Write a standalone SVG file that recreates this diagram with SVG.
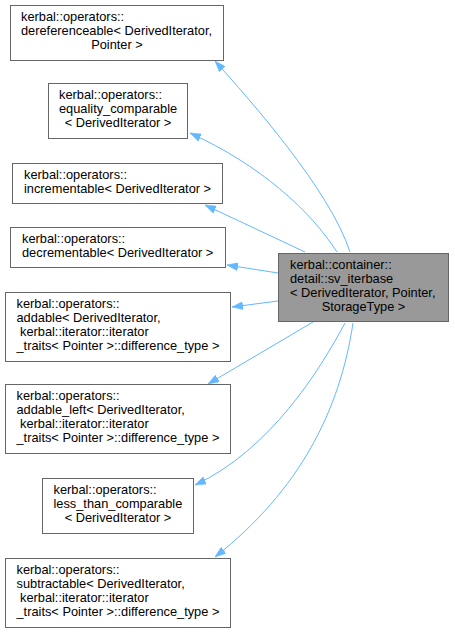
<svg xmlns="http://www.w3.org/2000/svg" width="455" height="633" viewBox="0 0 455 633">
<style>
.n rect{fill:#ffffff;stroke:#666666;stroke-width:1}
.main rect{fill:#999999;stroke:#666666;stroke-width:1}
text{font-family:"Liberation Sans",Helvetica,Arial,sans-serif;font-size:12.8px;fill:#000000}
.c{text-anchor:middle}
.e path{fill:none;stroke:#63b8ff;stroke-width:1}
</style>
<defs>
<marker id="ah" markerUnits="userSpaceOnUse" markerWidth="11" markerHeight="8" refX="11" refY="4" orient="auto">
<path d="M0,0 L11,4 L0,8 z" fill="#63b8ff" stroke="#63b8ff" stroke-width="0.5"/>
</marker>
</defs>
<rect width="455" height="633" fill="#ffffff"/>
<g id="edges" class="e">
<path d="M350,252 C330,190 250,100 215,61" marker-end="url(#ah)"/>
<path d="M337,252 C310,210 260,165 190,133" marker-end="url(#ah)"/>
<path d="M305,252 L205,205" marker-end="url(#ah)"/>
<path d="M278,273 L227,265" marker-end="url(#ah)"/>
<path d="M278,301 L232,307" marker-end="url(#ah)"/>
<path d="M313,322 L208,384" marker-end="url(#ah)"/>
<path d="M345,323 C320,370 270,450 195,485" marker-end="url(#ah)"/>
<path d="M353,323 C340,410 300,490 215,557" marker-end="url(#ah)"/>
</g>
<g id="node-main" class="main">
<rect x="278.5" y="253.5" width="170" height="68"/>
<text x="290" y="269">kerbal::container::</text>
<text x="290" y="283">detail::sv_iterbase</text>
<text x="290" y="297">&lt; DerivedIterator, Pointer,</text>
<text class="c" x="363.5" y="311">StorageType &gt;</text>
</g>
<g id="node-dereferenceable" class="n">
<rect x="10.5" y="5.5" width="213" height="55"/>
<text x="21" y="21">kerbal::operators::</text>
<text x="21" y="35">dereferenceable&lt; DerivedIterator,</text>
<text class="c" x="117" y="49">Pointer &gt;</text>
</g>
<g id="node-equality_comparable" class="n">
<rect x="48.5" y="83.5" width="139" height="55"/>
<text x="59" y="99">kerbal::operators::</text>
<text x="59" y="113">equality_comparable</text>
<text class="c" x="118" y="127">&lt; DerivedIterator &gt;</text>
</g>
<g id="node-incrementable" class="n">
<rect x="12.5" y="163.5" width="210" height="40"/>
<text x="24" y="179">kerbal::operators::</text>
<text x="24" y="193">incrementable&lt; DerivedIterator &gt;</text>
</g>
<g id="node-decrementable" class="n">
<rect x="10.5" y="227.5" width="215" height="40"/>
<text x="22" y="243">kerbal::operators::</text>
<text x="22" y="257">decrementable&lt; DerivedIterator &gt;</text>
</g>
<g id="node-addable" class="n">
<rect x="5.5" y="292.5" width="225" height="69"/>
<text x="16.5" y="308">kerbal::operators::</text>
<text x="16.5" y="322">addable&lt; DerivedIterator,</text>
<text x="20" y="336">kerbal::iterator::iterator</text>
<text x="16.5" y="350">_traits&lt; Pointer &gt;::difference_type &gt;</text>
</g>
<g id="node-addable_left" class="n">
<rect x="5.5" y="384.5" width="225" height="69"/>
<text x="16.5" y="400">kerbal::operators::</text>
<text x="16.5" y="414">addable_left&lt; DerivedIterator,</text>
<text x="20" y="428">kerbal::iterator::iterator</text>
<text x="16.5" y="442">_traits&lt; Pointer &gt;::difference_type &gt;</text>
</g>
<g id="node-less_than_comparable" class="n">
<rect x="42.5" y="478.5" width="151" height="55"/>
<text x="53.5" y="494">kerbal::operators::</text>
<text x="53.5" y="508">less_than_comparable</text>
<text class="c" x="118" y="522">&lt; DerivedIterator &gt;</text>
</g>
<g id="node-subtractable" class="n">
<rect x="5.5" y="558.5" width="225" height="69"/>
<text x="16.5" y="574">kerbal::operators::</text>
<text x="16.5" y="588">subtractable&lt; DerivedIterator,</text>
<text x="20" y="602">kerbal::iterator::iterator</text>
<text x="16.5" y="616">_traits&lt; Pointer &gt;::difference_type &gt;</text>
</g>
</svg>
